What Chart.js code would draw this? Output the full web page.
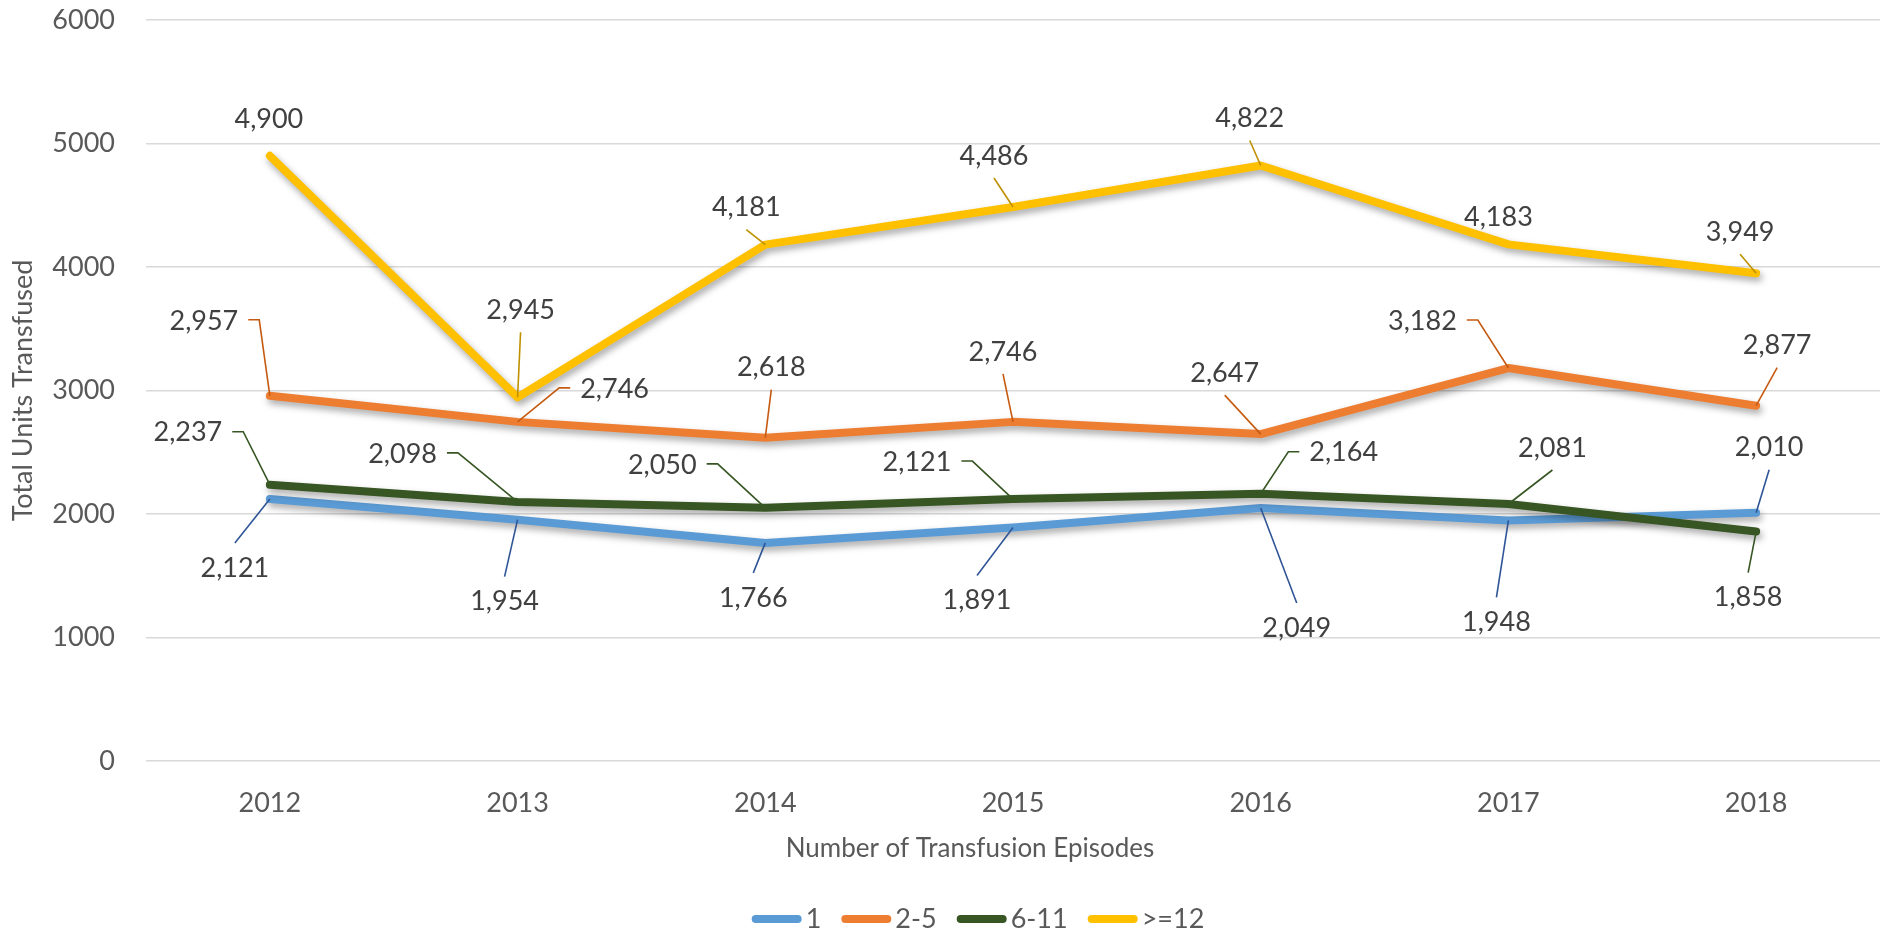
<!DOCTYPE html>
<html>
<head>
<meta charset="utf-8">
<script src="https://cdn.jsdelivr.net/npm/chart.js@4.4.1/dist/chart.umd.min.js"></script>
<style>
  html, body { margin: 0; padding: 0; background: #fff; }
  canvas { display: block; }
</style>
</head>
<body>
<canvas id="chart" width="1884" height="935"></canvas>
<script>
// Data
const years = ['2012', '2013', '2014', '2015', '2016', '2017', '2018'];
const seriesNames = ['1', '2-5', '6-11', '>=12'];
const oneEpisode = [2121, 1954, 1766, 1891, 2049, 1948, 2010];
const twoToFive = [2957, 2746, 2618, 2746, 2647, 3182, 2877];
const sixToEleven = [2237, 2098, 2050, 2121, 2164, 2081, 1858];
const twelvePlus = [4900, 2945, 4181, 4486, 4822, 4183, 3949];
const yMin = 0;
const yMax = 6000;
const yStep = 1000;

const lineColors = ['#5B9BD5', '#ED7D31', '#375623', '#FFC000'];
const leaderColors = ['#2F5597', '#C55A11', '#375623', '#BF9000'];

// label placement: [dx, dy, leader] relative to the point, in pixels
const labelOffsets = [
  [[-35, 69, 1], [-13, 82, 1], [-12, 55, 1], [-36, 73, 1], [36, 120, 1], [-12, 102, 1], [13, -65, 1]],
  [[-66, -75, 1], [97, -33, 1], [6, -70, 1], [-10, -70, 1], [-36, -61, 1], [-86, -47, 1], [21, -60, 1]],
  [[-82, -52, 1], [-115, -48, 1], [-103, -43, 1], [-96, -37, 1], [83, -41, 1], [44, -56, 1], [-8, 66, 1]],
  [[-1, -37, 0], [3, -87, 1], [-19, -37, 1], [-19, -51, 1], [-11, -47, 1], [-10, -27, 0], [-16, -41, 1]]
];

const FONT = 'Lato, "Open Sans", sans-serif';
const FONT_SIZE = 27;

// Excel-like soft shadow under each line
const shadowPlugin = {
  id: 'lineShadow',
  beforeDatasetDraw(chart) {
    const ctx = chart.ctx;
    ctx.save();
    ctx.shadowColor = 'rgba(0, 0, 0, 0.35)';
    ctx.shadowBlur = 7;
    ctx.shadowOffsetX = 2;
    ctx.shadowOffsetY = 4;
  },
  afterDatasetDraw(chart) {
    chart.ctx.restore();
  }
};

// Data labels with leader lines
const labelPlugin = {
  id: 'dataLabels',
  afterDatasetsDraw(chart) {
    const ctx = chart.ctx;
    ctx.save();
    ctx.font = `${FONT_SIZE}px ${FONT}`;
    ctx.textAlign = 'center';
    ctx.textBaseline = 'middle';
    chart.data.datasets.forEach((ds, di) => {
      const meta = chart.getDatasetMeta(di);
      meta.data.forEach((pt, i) => {
        const [dx, dy, leader] = labelOffsets[di][i];
        const text = ds.data[i].toLocaleString('en-US');
        const lx = pt.x + dx;
        const ly = pt.y + dy;
        const halfW = ctx.measureText(text).width / 2;

        if (leader) {
          ctx.strokeStyle = leaderColors[di];
          ctx.lineWidth = 1.6;
          ctx.beginPath();
          if (Math.abs(dx) > 60) {
            // label beside the point: horizontal stub then diagonal
            const dir = dx < 0 ? 1 : -1;
            const sx = dx < 0 ? lx + halfW + 10 : lx - halfW - 10;
            ctx.moveTo(sx, ly - 1);
            ctx.lineTo(sx + dir * 11, ly - 1);
            ctx.lineTo(pt.x, pt.y);
          } else {
            const sy = dy < 0 ? ly + 22 : ly - 25;
            ctx.moveTo(lx, sy);
            ctx.lineTo(pt.x, pt.y);
          }
          ctx.stroke();
        }

        ctx.fillStyle = '#404040';
        ctx.fillText(text, lx, ly);
      });
    });
    ctx.restore();
  }
};

// X axis title and legend, placed like the original
const footerPlugin = {
  id: 'footer',
  afterDraw(chart) {
    const ctx = chart.ctx;
    const centerX = chart.width / 2 + 32;
    ctx.save();
    ctx.font = `26px ${FONT}`;
    ctx.fillStyle = '#595959';
    ctx.textBaseline = 'middle';
    ctx.textAlign = 'center';
    ctx.fillText('Number of Transfusion Episodes', centerX - 4, 849);

    // legend
    ctx.font = `27px ${FONT}`;
    const sample = 50;
    const textGap = 4;
    const itemGap = 20;
    const widths = chart.data.datasets.map(ds => sample + textGap + ctx.measureText(ds.label).width);
    const total = widths.reduce((a, b) => a + b, 0) + itemGap * (widths.length - 1);
    let x = centerX + 4 - total / 2;
    const y = 919;
    ctx.textAlign = 'left';
    chart.data.datasets.forEach((ds, i) => {
      ctx.strokeStyle = ds.borderColor;
      ctx.lineWidth = 8;
      ctx.lineCap = 'round';
      ctx.beginPath();
      ctx.moveTo(x + 4, y);
      ctx.lineTo(x + sample - 4, y);
      ctx.stroke();
      ctx.fillStyle = '#595959';
      ctx.fillText(ds.label, x + sample + textGap, y);
      x += widths[i] + itemGap;
    });
    ctx.restore();
  }
};

const seriesValues = [oneEpisode, twoToFive, sixToEleven, twelvePlus];

const chart = new Chart(document.getElementById('chart'), {
  type: 'line',
  data: {
    labels: years,
    datasets: seriesNames.map((name, i) => ({
      label: name,
      data: seriesValues[i],
      borderColor: lineColors[i],
      backgroundColor: lineColors[i],
      borderWidth: 8,
      borderCapStyle: 'round',
      borderJoinStyle: 'round',
      pointRadius: 0,
      pointHoverRadius: 0,
      tension: 0,
      fill: false,
      order: seriesNames.length - i
    }))
  },
  options: {
    responsive: false,
    animation: false,
    layout: {
      padding: { top: 20, right: 4, bottom: 55, left: 0 }
    },
    plugins: {
      legend: { display: false },
      tooltip: { enabled: false }
    },
    scales: {
      x: {
        offset: true,
        grid: { display: false, drawTicks: false },
        border: { display: false },
        ticks: {
          color: '#595959',
          padding: 26,
          font: { family: FONT, size: FONT_SIZE }
        },
        afterFit(scale) { scale.height = 119; }
      },
      y: {
        min: yMin,
        max: yMax,
        grid: { color: '#D9D9D9', lineWidth: 1.5, drawTicks: false },
        border: { display: false },
        ticks: {
          stepSize: yStep,
          color: '#595959',
          padding: 31,
          font: { family: FONT, size: FONT_SIZE },
          callback: v => String(v)
        },
        title: {
          display: true,
          text: 'Total Units Transfused',
          color: '#595959',
          padding: { top: 7, bottom: 0 },
          font: { family: FONT, size: 27 }
        },
        afterFit(scale) {
          scale.width = 146;
          // keep the tick padding from pushing the plot area down
          scale.paddingTop = 16;
          scale.paddingBottom = 16;
        }
      }
    }
  },
  plugins: [shadowPlugin, labelPlugin, footerPlugin]
});
</script>
</body>
</html>
